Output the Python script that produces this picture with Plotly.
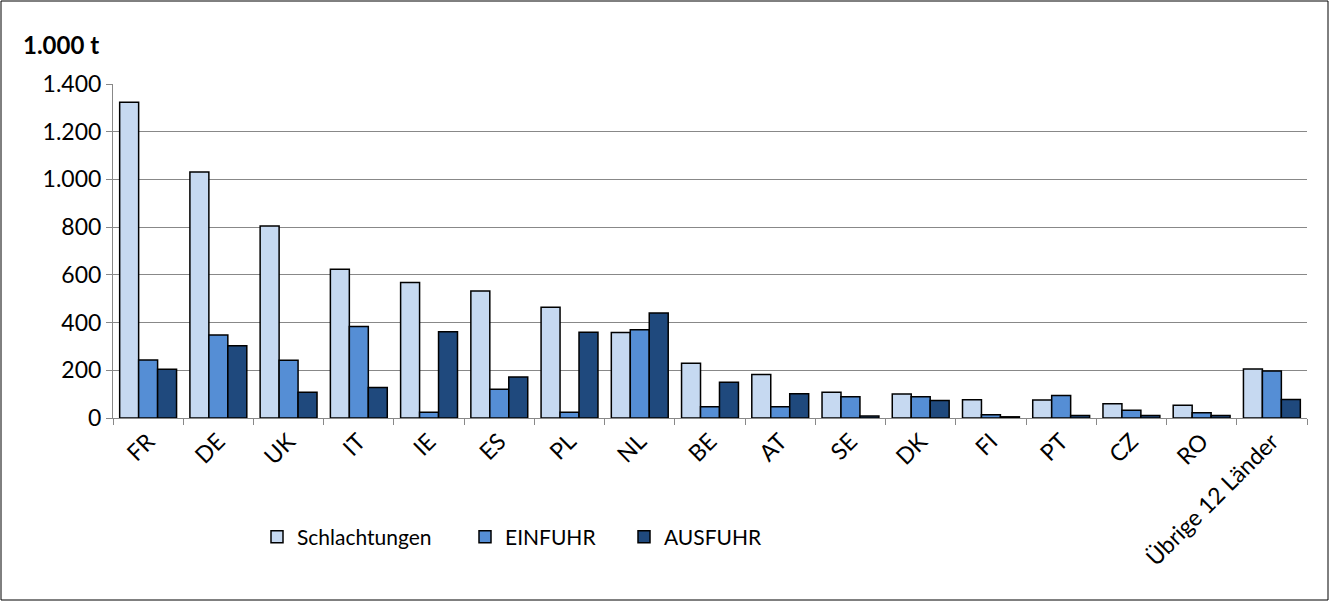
import plotly.graph_objects as go

countries = ["FR", "DE", "UK", "IT", "IE", "ES", "PL", "NL", "BE", "AT", "SE", "DK", "FI", "PT", "CZ", "RO", "Übrige 12 Länder"]
schlachtungen = [1324, 1031, 805, 624, 568, 532, 464, 358, 230, 182, 108, 101, 77, 75, 60, 53, 205]
einfuhr = [243, 348, 242, 384, 24, 121, 24, 370, 47, 47, 89, 89, 14, 94, 32, 22, 197]
ausfuhr = [204, 303, 108, 128, 362, 172, 359, 440, 150, 102, 8, 73, 5, 10, 10, 10, 78]

series_names = ["Schlachtungen", "EINFUHR", "AUSFUHR"]
colors = ["#C6D9F1", "#558ED5", "#1F497D"]
y_ticks = [0, 200, 400, 600, 800, 1000, 1200, 1400]

FONT = "Lato, sans-serif"

fig = go.Figure()
for i, (name, vals, col) in enumerate(zip(series_names, [schlachtungen, einfuhr, ausfuhr], colors)):
    fig.add_trace(go.Bar(
        x=countries, y=vals, name=name,
        marker=dict(color=col, line=dict(color="black", width=1.5)),
        legend="legend" if i == 0 else f"legend{i+1}",
    ))

W, H = 1330, 602
L, R, T, B = 113, 23, 84, 184
pw, ph = W - L - R, H - T - B

def px_x(x):
    return (x - L) / pw

def px_y(y):
    return (H - B - y) / ph

leg_common = dict(orientation="h", xanchor="left", yanchor="middle",
                  font=dict(family=FONT, size=21, color="black"),
                  bgcolor="rgba(0,0,0,0)", itemclick=False)

fig.update_layout(
    width=W, height=H,
    margin=dict(l=L, r=R, t=T, b=B),
    paper_bgcolor="white", plot_bgcolor="white",
    separators=",.",
    barmode="group", bargap=0.19, bargroupgap=0,
    font=dict(family=FONT, size=21, color="black"),
    showlegend=True,
    legend=dict(x=px_x(257), y=px_y(537), **leg_common),
    legend2=dict(x=px_x(465), y=px_y(537), **leg_common),
    legend3=dict(x=px_x(624), y=px_y(537), **leg_common),
    xaxis=dict(
        type="category", tickangle=-45, tickson="boundaries",
        ticks="outside", ticklen=6, tickcolor="#888888",
        showline=True, linecolor="#888888", linewidth=1,
        tickfont=dict(family=FONT, size=23, color="black"),
        showgrid=False,
    ),
    yaxis=dict(
        range=[0, 1400], tickvals=y_ticks, tickformat=",d",
        ticks="outside", ticklen=6, tickcolor="#888888",
        showline=True, linecolor="#888888", linewidth=1,
        showgrid=True, gridcolor="#888888", gridwidth=1,
        zeroline=False,
        tickfont=dict(family=FONT, size=23, color="black"),
    ),
    annotations=[dict(
        text="<b>1.000 t</b>", xref="paper", yref="paper",
        x=px_x(21), y=px_y(45), xanchor="left", yanchor="middle",
        showarrow=False, font=dict(family=FONT, size=24, color="black"),
    )],
    shapes=[dict(
        type="rect", xref="paper", yref="paper",
        x0=px_x(1), x1=px_x(1328), y0=px_y(600), y1=px_y(1),
        line=dict(color="black", width=1), fillcolor="rgba(0,0,0,0)", layer="above",
    )],
)

fig.write_html("out.html", config={"displayModeBar": False},
               post_script="document.body.style.margin='0';document.body.style.overflow='hidden';")
